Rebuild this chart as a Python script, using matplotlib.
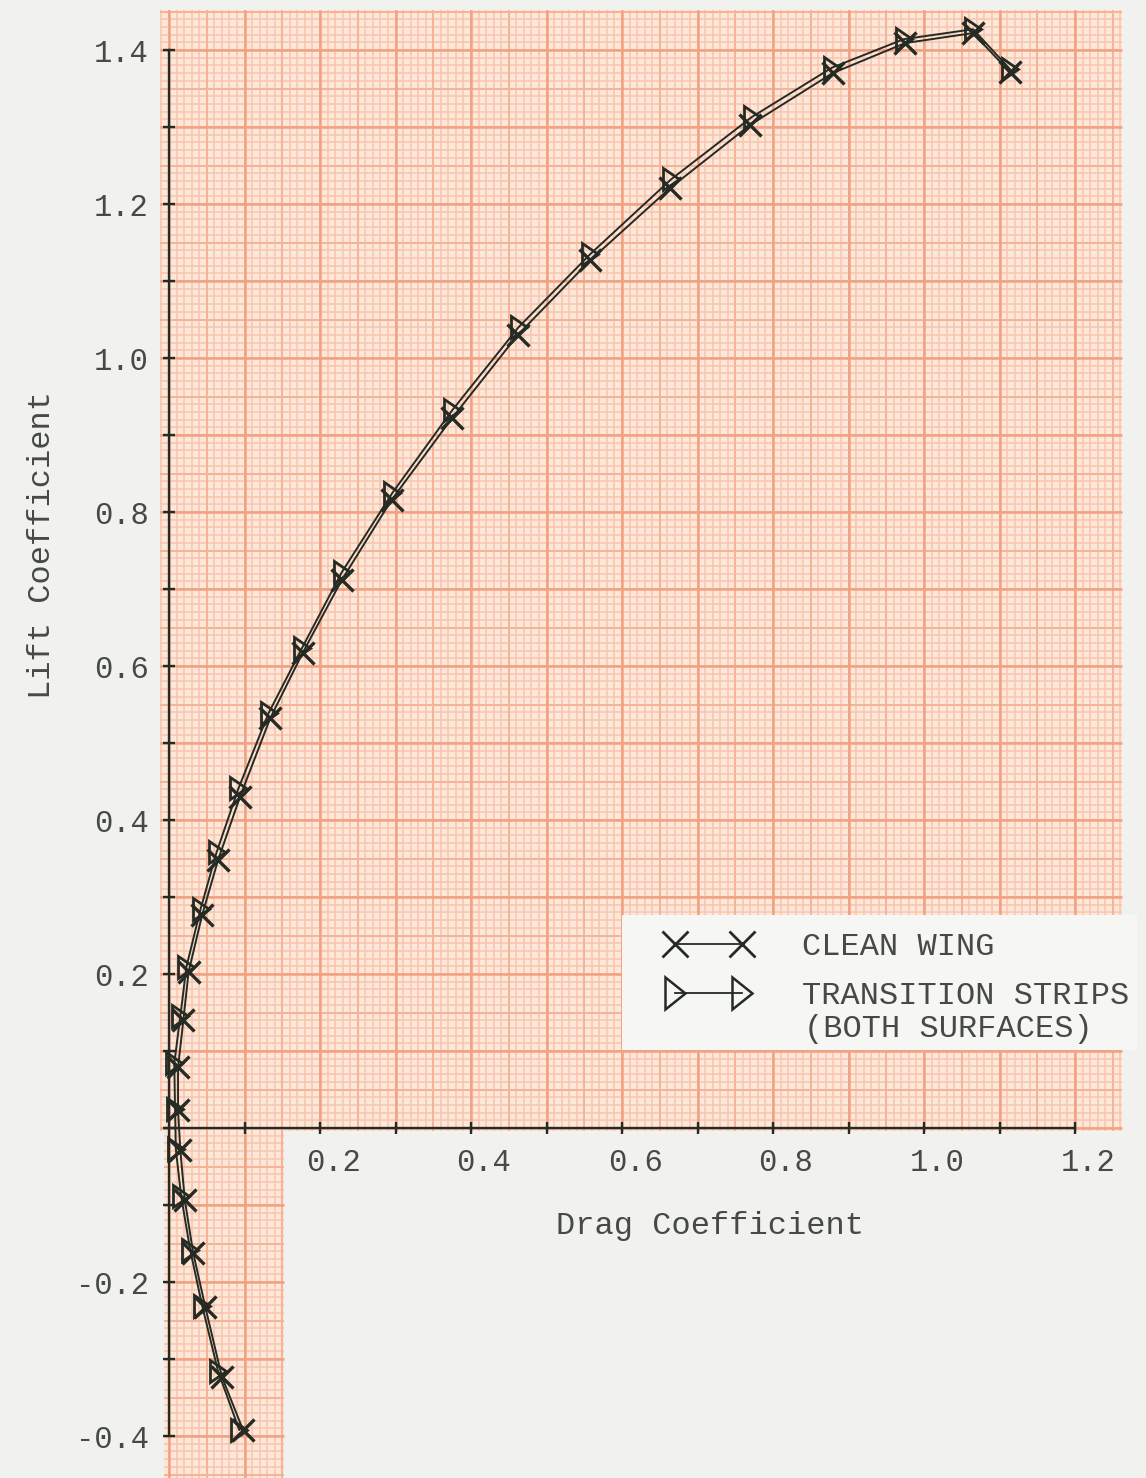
import numpy as np
import matplotlib.pyplot as plt
import matplotlib.ticker as mticker
from matplotlib.patches import Rectangle
from matplotlib.lines import Line2D
from matplotlib.markers import MarkerStyle
from matplotlib.transforms import Affine2D, ScaledTranslation

plt.rcParams["axes.unicode_minus"] = False

# Clean wing (x markers)
clean_cd = [0.098, 0.070, 0.048, 0.032, 0.021, 0.015, 0.012, 0.012, 0.019, 0.026,
            0.044, 0.065, 0.094, 0.134, 0.177, 0.229, 0.295, 0.375, 0.462, 0.558,
            0.664, 0.770, 0.879, 0.975, 1.065, 1.114]
clean_cl = [-0.392, -0.323, -0.232, -0.162, -0.094, -0.029, 0.023, 0.079, 0.140, 0.203,
            0.277, 0.348, 0.430, 0.532, 0.617, 0.712, 0.816, 0.922, 1.030, 1.127,
            1.221, 1.303, 1.370, 1.409, 1.422, 1.371]

# Transition strips, both surfaces (triangle markers)
strip_cd = [0.093, 0.065, 0.044, 0.028, 0.016, 0.009, 0.008, 0.007, 0.015, 0.023,
            0.042, 0.063, 0.092, 0.132, 0.176, 0.229, 0.296, 0.375, 0.463, 0.558,
            0.665, 0.772, 0.878, 0.973, 1.065, 1.114]
strip_cl = [-0.392, -0.316, -0.231, -0.158, -0.088, -0.027, 0.025, 0.084, 0.145, 0.209,
            0.285, 0.358, 0.441, 0.539, 0.623, 0.722, 0.825, 0.932, 1.040, 1.135,
            1.232, 1.313, 1.377, 1.414, 1.427, 1.375]

x_ticks = [0.1, 0.2, 0.3, 0.4, 0.5, 0.6, 0.7, 0.8, 0.9, 1.0, 1.1, 1.2]
y_ticks = [-0.4, -0.3, -0.2, -0.1, 0.0, 0.1, 0.2, 0.3, 0.4, 0.5, 0.6, 0.7,
           0.8, 0.9, 1.0, 1.1, 1.2, 1.3, 1.4]

INK = "#242b24"
TEXT = "#454a45"
PAPER = "#fde7d8"
FONT = "Liberation Mono"

fig = plt.figure(figsize=(11.46, 14.78), dpi=100)
fig.patch.set_facecolor("#f1f2ef")
ax = fig.add_axes([0, 0, 1, 1])
ax.set_facecolor("none")
ax.set_xlim(-169 / 755, (1146 - 169) / 755)
ax.set_ylim((1128 - 1478) / 770, 1128 / 770)


# graph paper: 0.01 minor, 0.05 medium, 0.1 major lines
def paper(x0, x1, y0, y1):
    ax.add_patch(Rectangle((x0, y0), x1 - x0, y1 - y0, facecolor=PAPER,
                           edgecolor="none", zorder=0))
    styles = [(1, "#f8c5ae", 1.1), (5, "#f5b498", 1.4), (10, "#f2a283", 1.8)]
    for step, col, lw in styles:
        xs = [i / 100 for i in range(int(np.ceil(x0 * 100)), int(np.floor(x1 * 100)) + 1)
              if i % step == 0]
        ys = [i / 100 for i in range(int(np.ceil(y0 * 100)), int(np.floor(y1 * 100)) + 1)
              if i % step == 0]
        ax.vlines(xs, y0, y1, colors=col, lw=lw, zorder=0.5)
        ax.hlines(ys, x0, x1, colors=col, lw=lw, zorder=0.5)


paper(-0.012, 1.262, -0.004, 1.452)
paper(-0.006, 0.152, -0.46, -0.004)

# legend box
ax.add_patch(Rectangle((0.600, (1128 - 1050) / 770), 0.682, 135 / 770,
                       facecolor="#f6f7f4", edgecolor="none", zorder=1))

tri = MarkerStyle(">", transform=Affine2D().scale(0.72, 1.0))

ax.plot(clean_cd, clean_cl, color=INK, lw=1.4, marker="x", ms=16, mew=2.4,
        zorder=3)
ax.plot(strip_cd, strip_cl, color=INK, lw=1.4, marker=tri, ms=16, mew=2.0,
        mfc="none", mec=INK, zorder=3)

# axes through the origin
for side in ["top", "right"]:
    ax.spines[side].set_visible(False)
ax.spines["left"].set_position(("data", 0))
ax.spines["bottom"].set_position(("data", 0))
ax.spines["left"].set_bounds(-0.4, 1.4)
ax.spines["bottom"].set_bounds(-0.005, 1.2)
for side in ["left", "bottom"]:
    ax.spines[side].set_color(INK)
    ax.spines[side].set_linewidth(1.7)
    ax.spines[side].set_zorder(4)

ax.xaxis.set_major_locator(mticker.FixedLocator(x_ticks))
ax.yaxis.set_major_locator(mticker.FixedLocator(y_ticks))


def even_label(v, pos):
    k = int(round(v * 10))
    if k == 0 or k % 2:
        return ""
    return f"{v:.1f}"


ax.xaxis.set_major_formatter(mticker.FuncFormatter(even_label))
ax.yaxis.set_major_formatter(mticker.FuncFormatter(even_label))
ax.tick_params(direction="inout", length=9, width=1.7, color=INK,
               labelsize=22, labelcolor=TEXT)
ax.tick_params(axis="x", pad=10)
ax.tick_params(axis="y", pad=10)
for lab in ax.get_xticklabels() + ax.get_yticklabels():
    lab.set_family(FONT)
shift = ScaledTranslation(13 / 100, 0, fig.dpi_scale_trans)
for lab in ax.get_xticklabels():
    lab.set_transform(lab.get_transform() + shift)

ax.set_xlabel("Drag Coefficient", fontsize=23, family=FONT, color=TEXT,
              va="center")
ax.xaxis.set_label_coords(710 / 1146, 1 - 1226 / 1478)
ax.set_ylabel("Lift Coefficient", fontsize=23, family=FONT, color=TEXT,
              va="center")
ax.yaxis.set_label_coords(42 / 1146, 1 - 545 / 1478)

tri_big = MarkerStyle(">", transform=Affine2D().scale(0.65, 1.0))
handles = [
    Line2D([], [], color=INK, lw=1.3, marker="x", ms=19, mew=2.0),
    Line2D([], [], color=INK, lw=1.3, marker=tri_big, ms=23, mew=1.8,
           mfc="none", mec=INK),
]
labels = ["CLEAN WING", "TRANSITION STRIPS"]
ax.legend(handles, labels, loc="upper left", numpoints=2,
          bbox_to_anchor=(649 / 1146, 1 - 916 / 1478), frameon=False,
          borderpad=0, handlelength=2.7, handletextpad=1.6, labelspacing=0.6,
          prop={"family": FONT, "size": 23}, labelcolor=TEXT)
ax.text(804 / 1146, 1 - 1029 / 1478, "(BOTH SURFACES)", transform=ax.transAxes,
        family=FONT, fontsize=23, color=TEXT, ha="left", va="center")

fig.savefig("out.png", dpi=100, facecolor=fig.get_facecolor())
